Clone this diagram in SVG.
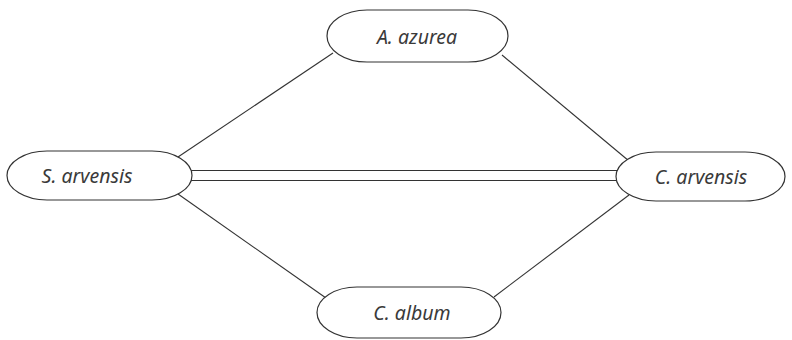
<svg xmlns="http://www.w3.org/2000/svg" width="792" height="340" viewBox="0 0 792 340">
<style>
.node rect{fill:#fff;stroke:#333;stroke-width:1.2}
.node text{font-family:"Noto Sans","DejaVu Sans",sans-serif;font-style:italic;font-size:19.5px;fill:#3a3a3a;text-anchor:middle;dominant-baseline:central}
.edge{stroke:#333;stroke-width:1.1;fill:none}
</style>
<rect width="792" height="340" fill="#fff"/>
<g id="connectors">
<line class="edge" x1="333" y1="53" x2="178" y2="157"/>
<line class="edge" x1="502" y1="55" x2="629" y2="161"/>
<line class="edge" x1="178" y1="194" x2="326" y2="298"/>
<line class="edge" x1="494" y1="297" x2="629" y2="195"/>
<line class="edge" x1="191" y1="170.5" x2="618" y2="170.5"/>
<line class="edge" x1="191" y1="180.5" x2="618" y2="180.5"/>
</g>
<g id="a-azurea" class="node"><rect x="327" y="10" width="181" height="52" rx="40" ry="26"/><text x="417" y="36">A. azurea</text></g>
<g id="s-arvensis" class="node"><rect x="7" y="151" width="185" height="49" rx="40" ry="24.5"/><text x="87" y="175.5">S. arvensis</text></g>
<g id="c-arvensis" class="node"><rect x="616" y="152" width="169" height="49" rx="40" ry="24.5"/><text x="701" y="176.5">C. arvensis</text></g>
<g id="c-album" class="node"><rect x="317" y="287" width="184" height="51" rx="40" ry="25.5"/><text x="412" y="312.5">C. album</text></g>
</svg>
